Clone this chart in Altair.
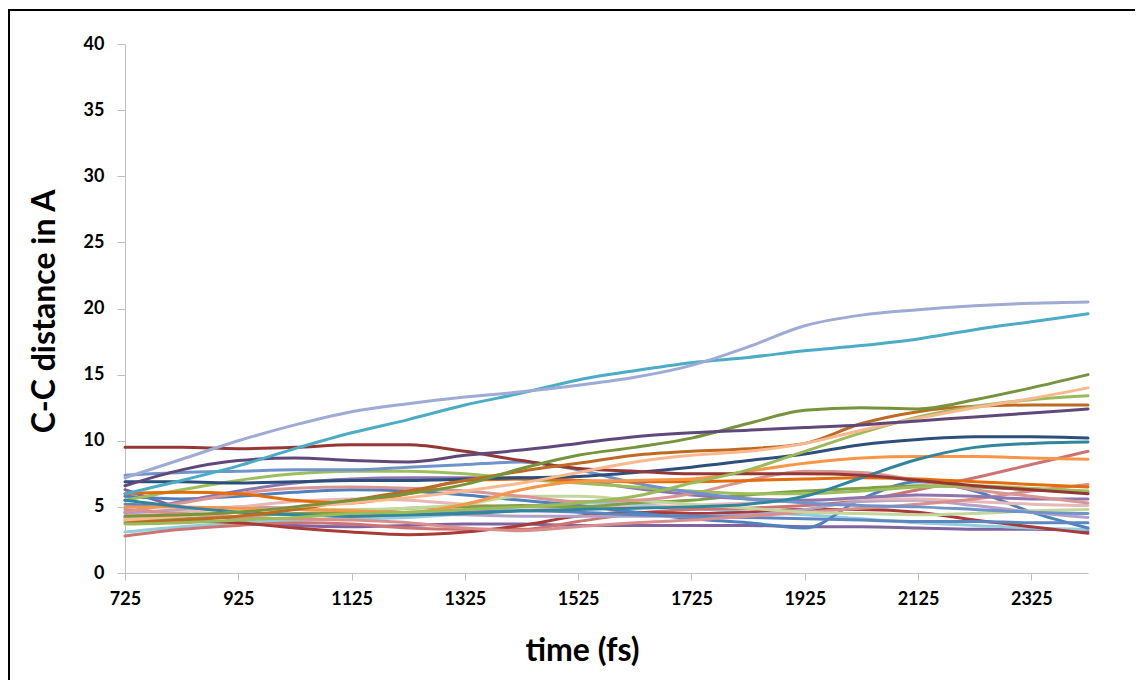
import altair as alt
import pandas as pd

times = [725, 825, 925, 1025, 1125, 1225, 1325, 1425, 1525, 1625, 1725, 1825, 1925, 2025, 2125, 2225, 2325, 2425]
x_ticks = [725, 925, 1125, 1325, 1525, 1725, 1925, 2125, 2325]
y_ticks = [0, 5, 10, 15, 20, 25, 30, 35, 40]

s01 = [7.2, 8.6, 10.0, 11.2, 12.2, 12.8, 13.3, 13.7, 14.2, 14.8, 15.7, 17.1, 18.7, 19.5, 19.9, 20.2, 20.4, 20.5]
s02 = [6.0, 7.0, 8.1, 9.4, 10.6, 11.6, 12.7, 13.6, 14.6, 15.3, 15.9, 16.3, 16.8, 17.2, 17.7, 18.4, 19.0, 19.6]
s03 = [6.6, 7.8, 8.5, 8.7, 8.5, 8.4, 8.9, 9.3, 9.8, 10.3, 10.6, 10.8, 11.0, 11.2, 11.5, 11.8, 12.1, 12.4]
s04 = [4.3, 4.4, 4.6, 5.0, 5.5, 6.0, 6.7, 7.9, 8.9, 9.5, 10.2, 11.3, 12.3, 12.5, 12.4, 13.1, 14.0, 15.0]
s05 = [4.0, 4.3, 4.6, 5.0, 5.3, 5.7, 6.2, 6.8, 7.6, 8.4, 8.9, 9.2, 9.8, 10.8, 11.7, 12.5, 13.2, 14.0]
s06 = [3.7, 3.8, 4.0, 4.2, 4.5, 4.6, 4.8, 5.0, 5.3, 5.8, 6.8, 7.8, 9.2, 10.6, 11.8, 12.6, 13.1, 13.4]
s07 = [3.8, 4.0, 4.3, 4.8, 5.5, 6.2, 7.0, 7.7, 8.3, 8.9, 9.2, 9.4, 9.8, 11.3, 12.2, 12.6, 12.7, 12.7]
s08 = [6.9, 6.9, 6.8, 6.9, 7.0, 7.0, 7.1, 7.2, 7.3, 7.6, 8.0, 8.5, 9.0, 9.7, 10.1, 10.3, 10.3, 10.2]
s09 = [5.5, 5.0, 4.6, 4.4, 4.3, 4.4, 4.5, 4.7, 4.8, 4.9, 5.0, 5.2, 5.8, 7.2, 8.6, 9.5, 9.8, 9.9]
s10 = [5.0, 5.0, 4.9, 4.8, 4.7, 4.6, 5.2, 6.3, 6.9, 7.0, 7.1, 7.7, 8.3, 8.7, 8.8, 8.8, 8.7, 8.6]
s11 = [6.0, 6.1, 6.0, 5.5, 5.3, 6.0, 7.0, 7.1, 7.0, 6.9, 6.9, 7.0, 7.1, 7.2, 7.1, 6.9, 6.7, 6.5]
s12 = [7.4, 7.6, 7.7, 7.8, 7.8, 8.0, 8.2, 8.4, 7.8, 6.8, 6.1, 5.6, 5.3, 5.1, 5.0, 4.8, 4.6, 4.5]
s13 = [5.5, 6.3, 7.0, 7.5, 7.7, 7.7, 7.5, 7.1, 6.8, 6.5, 6.2, 6.0, 6.0, 6.2, 6.5, 6.6, 6.4, 6.2]
s14 = [4.6, 5.4, 6.2, 6.8, 7.1, 7.2, 7.2, 7.2, 7.0, 6.4, 5.9, 5.6, 5.5, 5.7, 5.9, 5.8, 5.6, 5.6]
s15 = [6.3, 4.9, 4.0, 3.6, 3.5, 3.6, 3.7, 3.7, 3.6, 3.6, 3.6, 3.6, 3.5, 3.5, 3.4, 3.3, 3.3, 3.2]
s16 = [4.6, 5.3, 6.0, 6.4, 6.5, 6.4, 6.2, 5.8, 5.4, 5.5, 6.0, 7.0, 7.7, 7.6, 7.0, 6.3, 5.8, 5.3]
s17 = [4.2, 4.4, 4.7, 4.8, 4.8, 4.9, 5.2, 5.8, 5.8, 5.5, 5.2, 4.9, 4.6, 4.5, 4.4, 4.5, 4.7, 4.8]
s18 = [3.1, 3.5, 3.8, 4.0, 4.1, 4.2, 4.5, 5.0, 5.3, 5.2, 4.9, 4.6, 4.4, 4.1, 3.8, 3.6, 3.4, 3.3]
s19 = [2.8, 3.3, 3.6, 3.8, 3.7, 3.4, 3.3, 3.3, 3.9, 4.5, 4.8, 4.9, 5.1, 5.5, 6.3, 7.2, 8.2, 9.2]
s20 = [4.2, 4.0, 3.8, 3.4, 3.1, 2.9, 3.1, 3.6, 4.3, 4.6, 4.5, 4.6, 4.8, 4.8, 4.6, 4.0, 3.5, 3.0]
s21 = [9.5, 9.5, 9.4, 9.5, 9.7, 9.7, 9.2, 8.5, 7.9, 7.7, 7.5, 7.5, 7.5, 7.4, 7.0, 6.6, 6.3, 6.0]
s22 = [5.8, 5.6, 5.8, 6.1, 6.3, 6.2, 5.9, 5.5, 5.1, 4.6, 4.1, 3.8, 3.4, 5.6, 6.9, 6.2, 4.6, 3.4]
s23 = [4.5, 4.8, 5.0, 4.9, 4.7, 4.5, 4.4, 4.3, 4.3, 4.3, 4.3, 4.4, 4.8, 5.4, 5.5, 5.1, 4.6, 4.2]
s24 = [4.3, 4.6, 5.0, 5.4, 5.6, 5.5, 5.2, 5.0, 4.9, 5.0, 5.1, 5.3, 5.5, 5.6, 5.6, 5.4, 5.2, 5.1]
s25 = [5.2, 5.0, 4.6, 4.4, 4.3, 4.4, 4.6, 4.7, 4.6, 4.4, 4.3, 4.2, 4.1, 4.0, 3.9, 3.9, 3.8, 3.8]
s26 = [4.0, 4.1, 4.3, 4.5, 4.6, 4.9, 5.0, 5.1, 5.0, 5.3, 5.5, 5.9, 6.2, 6.4, 6.6, 6.5, 6.3, 6.1]
s27 = [4.8, 4.5, 4.2, 4.1, 4.0, 3.8, 3.4, 3.2, 3.5, 3.8, 4.0, 4.3, 4.6, 4.9, 5.2, 5.6, 6.2, 6.7]

series = [s15, s18, s19, s20, s22, s23, s24, s25, s26, s27, s17, s14, s16, s13, s12,
          s11, s10, s09, s08, s21, s07, s06, s05, s04, s03, s02, s01]
names = ["purpleB", "lightaqua", "rose", "darkredB", "blueA", "lightpurple", "lightpink",
         "blueC", "darkgreen", "rosy", "lightgreenC", "purpleA", "pinkA", "greenA", "blueB",
         "orangeB", "orangeA", "teal", "navy", "darkredA", "brown", "lightgreenB", "peach",
         "olive", "darkpurple", "aqua", "lavender"]
colors = ["#8064A2", "#93CDDD", "#CD7371", "#A83A37", "#4F81BD", "#B3A2C7", "#E6B9B8",
          "#5B86C0", "#7FA046", "#DA8E8B", "#C3D69B", "#8D76B0", "#D99694", "#9DBE5C", "#7094CA",
          "#E46C0A", "#F79646", "#31859C", "#2C4F7C", "#953735", "#BE6A22", "#9BBB59", "#F9B88E",
          "#77933C", "#5F497A", "#4BACC6", "#9DABD5"]

rows = []
for name, vals in zip(names, series):
    for t, v in zip(times, vals):
        rows.append({"series": name, "time": t, "dist": v})
df = pd.DataFrame(rows)

FONT = "Lato"
AX = "#BFBFBF"

lines = alt.Chart(df).mark_line(
    interpolate="monotone", strokeWidth=3, strokeCap="round", strokeJoin="round"
).encode(
    x=alt.X("time:Q",
            scale=alt.Scale(domain=[725, 2425], nice=False, zero=False),
            axis=alt.Axis(values=x_ticks, format="d", title="time (fs)", grid=False,
                          domainColor=AX, tickColor=AX, tickSize=7, labelPadding=10,
                          labelFont=FONT, labelFontWeight="bold", labelFontSize=18,
                          labelColor="black", labelFlush=False,
                          titleFont=FONT, titleFontSize=32, titleFontWeight="bold",
                          titleColor="black", titleX=457, titleY=87, titleAlign="center",
                          titleBaseline="alphabetic")),
    y=alt.Y("dist:Q",
            scale=alt.Scale(domain=[0, 40], nice=False),
            axis=alt.Axis(values=y_ticks, title="C-C distance in A", grid=False,
                          domainColor=AX, tickColor=AX, tickSize=8, labelPadding=13,
                          labelFont=FONT, labelFontWeight="bold", labelFontSize=18,
                          labelColor="black",
                          titleFont=FONT, titleFontSize=32, titleFontWeight="bold",
                          titleColor="black", titleX=-71, titleY=267, titleAlign="center",
                          titleBaseline="alphabetic", titleAngle=270)),
    color=alt.Color("series:N", scale=alt.Scale(domain=names, range=colors), legend=None),
    order=alt.Order("time:Q"),
)

frame_top = alt.Chart(df).mark_rule(color="black", strokeWidth=2).encode(
    x=alt.value(-116), x2=alt.value(1010), y=alt.value(-34)
)
frame_left = alt.Chart(df).mark_rule(color="black", strokeWidth=2).encode(
    x=alt.value(-116), y=alt.value(-35), y2=alt.value(700)
)

chart = alt.layer(lines, frame_top, frame_left).properties(
    width=963, height=529,
    padding={"left": 117, "top": 36, "right": 47, "bottom": 107},
    autosize=alt.AutoSizeParams(type="none"),
).configure_view(stroke=None)

chart.save("out.html", embed_options={"renderer": "svg", "actions": False})
